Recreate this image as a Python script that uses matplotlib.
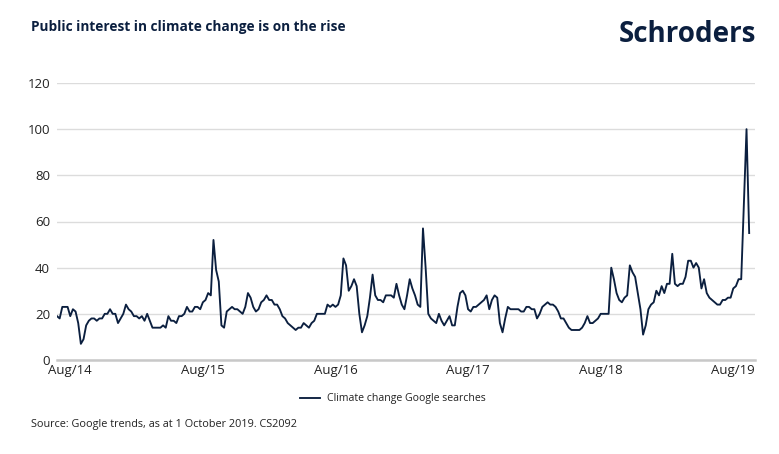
import matplotlib.pyplot as plt
import numpy as np

# Weekly Google Trends index for "climate change"
searches = [
    19, 18, 23, 23, 23, 19, 22, 21, 16, 7,
    9, 15, 17, 18, 18, 17, 18, 18, 20, 20,
    22, 20, 20, 16, 18, 20, 24, 22, 21, 19,
    19, 18, 19, 17, 20, 17, 14, 14, 14, 14,
    15, 14, 19, 17, 17, 16, 19, 19, 20, 23,
    21, 21, 23, 23, 22, 25, 26, 29, 28, 52,
    39, 34, 15, 14, 21, 22, 23, 22, 22, 21,
    20, 23, 29, 27, 23, 21, 22, 25, 26, 28,
    26, 26, 24, 24, 22, 19, 18, 16, 15, 14,
    13, 14, 14, 16, 15, 14, 16, 17, 20, 20,
    20, 20, 24, 23, 24, 23, 24, 28, 44, 41,
    30, 32, 35, 32, 20, 12, 15, 19, 27, 37,
    28, 26, 26, 25, 28, 28, 28, 27, 33, 28,
    24, 22, 28, 35, 31, 28, 24, 23, 57, 40,
    20, 18, 17, 16, 20, 17, 15, 17, 19, 15,
    15, 23, 29, 30, 28, 22, 21, 23, 23, 24,
    25, 26, 28, 22, 26, 28, 27, 16, 12, 18,
    23, 22, 22, 22, 22, 21, 21, 23, 23, 22,
    22, 18, 20, 23, 24, 25, 24, 24, 23, 21,
    18, 18, 16, 14, 13, 13, 13, 13, 14, 16,
    19, 16, 16, 17, 18, 20, 20, 20, 20, 40,
    35, 29, 26, 25, 27, 28,
    41, 38, 36, 29, 22, 11, 15, 22, 24, 25,
    30, 28, 32, 29, 33, 33, 46, 33, 32, 33,
    33, 36, 43, 43, 40, 42, 40, 31, 35, 29,
    27, 26, 25, 24, 24, 26, 26, 27, 27, 31,
    32, 35, 35, 67, 100, 55,
]
tick_weeks = [5, 55, 105, 155, 205, 255]
tick_labels = ['Aug/14', 'Aug/15', 'Aug/16', 'Aug/17', 'Aug/18', 'Aug/19']
y_ticks = [0, 20, 40, 60, 80, 100, 120]

navy = '#0b1f3f'
text_col = '#222222'
plt.rcParams['font.family'] = ['Open Sans', 'DejaVu Sans']

fig = plt.figure(figsize=(7.79, 4.54), dpi=100)
ax = fig.add_axes([57 / 779, 94 / 454, 698 / 779, 277 / 454])

x = np.arange(len(searches))
line, = ax.plot(x, searches, color=navy, linewidth=1.35,
                label='Climate change Google searches')

ax.set_xlim(0, 698 / 2.652)
ax.set_ylim(0, 120)
ax.set_yticks(y_ticks)
ax.set_xticks(tick_weeks)
ax.set_xticklabels(tick_labels)
ax.grid(axis='y', color='#dcdcdc', linewidth=1.0)
ax.set_axisbelow(True)
for side in ['top', 'right', 'left']:
    ax.spines[side].set_visible(False)
ax.spines['bottom'].set_color('#c8c8c8')
ax.spines['bottom'].set_linewidth(1.8)
ax.tick_params(axis='both', length=0, labelsize=9.5, labelcolor=text_col)
ax.tick_params(axis='y', pad=5)
ax.tick_params(axis='x', pad=3)

fig.text(31 / 779, 1 - 27 / 454, 'Public interest in climate change is on the rise',
         fontsize=9.8, fontweight='bold', color=navy, va='center', ha='left')
fig.text(756 / 779, 1 - 34 / 454, 'Schroders', fontsize=20, fontweight='bold',
         color=navy, va='center', ha='right')

fig.legend(handles=[line], loc='center', bbox_to_anchor=(0.504, 1 - 399 / 454),
           frameon=False, fontsize=7.6, handlelength=1.9, handletextpad=0.7,
           labelcolor=text_col)

fig.text(31 / 779, 1 - 425 / 454, 'Source: Google trends, as at 1 October 2019. CS2092',
         fontsize=7.8, color=text_col, va='center', ha='left')

fig.savefig('out.png', dpi=100)
